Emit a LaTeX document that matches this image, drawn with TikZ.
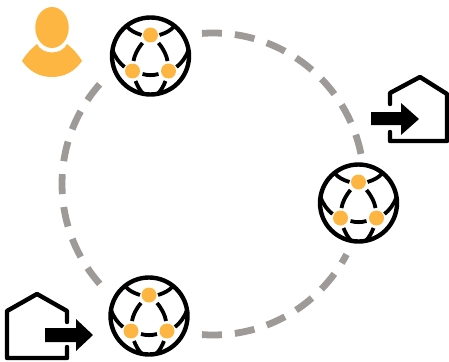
\documentclass[tikz,border=0pt]{standalone}
\usetikzlibrary{shapes.geometric}
\definecolor{amber}{HTML}{FDB642}
\definecolor{ringgrey}{HTML}{9E9A97}
\tikzset{
  x=1pt,y=-1pt,
  ring/.style={draw=ringgrey,line width=6.8pt,dash pattern=on 20pt off 13pt},
  net/.style={draw=black,line width=3.8pt},
  housepen/.style={draw=black,line width=4.4pt,line join=round,line cap=round},
  dot/.style={circle,fill=amber,minimum size=15pt,inner sep=0pt},
  globe/.pic={
    \draw[net,line width=4.4pt] (0,0) circle (38.5);
    \draw[net] (-8,-13) .. controls (-13,-7) and (-16,-1) .. (-17,5);
    \draw[net] (8,-13) .. controls (13,-7) and (16,-1) .. (17,5);
    \draw[net] (-8,18) .. controls (-3,19.5) and (3,19.5) .. (8,18);
    \draw[net] (-9,-21) .. controls (-15,-23) and (-20,-25) .. (-24,-30);
    \draw[net] (9,-21) .. controls (15,-23) and (20,-25) .. (24,-30);
    \draw[net] (-26,11) .. controls (-31,7) and (-35,2) .. (-38,-6);
    \draw[net] (26,11) .. controls (31,7) and (35,2) .. (38,-6);
    \draw[net] (-15,25) .. controls (-13,30) and (-11,34) .. (-7,38);
    \draw[net] (15,25) .. controls (13,30) and (11,34) .. (7,38);
    \node[dot] (-a) at (0,-21) {};
    \node[dot] (-b) at (-18,15) {};
    \node[dot] (-c) at (18,15) {};
  }
}
\begin{document}
\begin{tikzpicture}
\useasboundingbox (0,0) rectangle (449,361);
% dashed ring
\coordinate (hub) at (213,184);
\draw[ring] (hub) ++(-94.2:151) arc[start angle=-94.2,end angle=-11.5,radius=151];
\draw[ring] (hub) ++(94.2:151) arc[start angle=94.2,end angle=27.8,radius=151];
\draw[ring] (hub) ++(138.6:151) arc[start angle=138.6,end angle=221.4,radius=151];
% globes
\pic (g1) at (150.5,56) {globe};
\pic (g2) at (358.5,203) {globe};
\pic (g3) at (149,316) {globe};
% person
\fill[amber] (22,61) .. controls (26,54) and (31,49) .. (37,44)
  .. controls (42,55.3) and (62,55.3) .. (67,44)
  .. controls (73,49) and (78,54) .. (82,61)
  .. controls (74,72) and (64,77) .. (52,77)
  .. controls (40,77) and (30,72) .. (22,61) -- cycle;
\node[ellipse,minimum width=33.5pt,minimum height=41pt,inner sep=0pt,fill=amber] (head) at (52,27.5) {};
% right house
\draw[housepen] (390,104) -- (390,93) -- (420,77) -- (447,94) -- (447,141) -- (390,141) -- (390,132);
\fill[black] (371,112) -- (401,112) -- (401,103) -- (419,119) -- (401,135) -- (401,125) -- (371,125) -- cycle;
% left house
\draw[housepen] (67,322) -- (67,311) -- (37,294) -- (7,311) -- (7,358) -- (67,358) -- (67,347);
\fill[black] (45,328) -- (76,328) -- (76,319) -- (93,335) -- (76,351) -- (76,342) -- (45,342) -- cycle;
\end{tikzpicture}
\end{document}
